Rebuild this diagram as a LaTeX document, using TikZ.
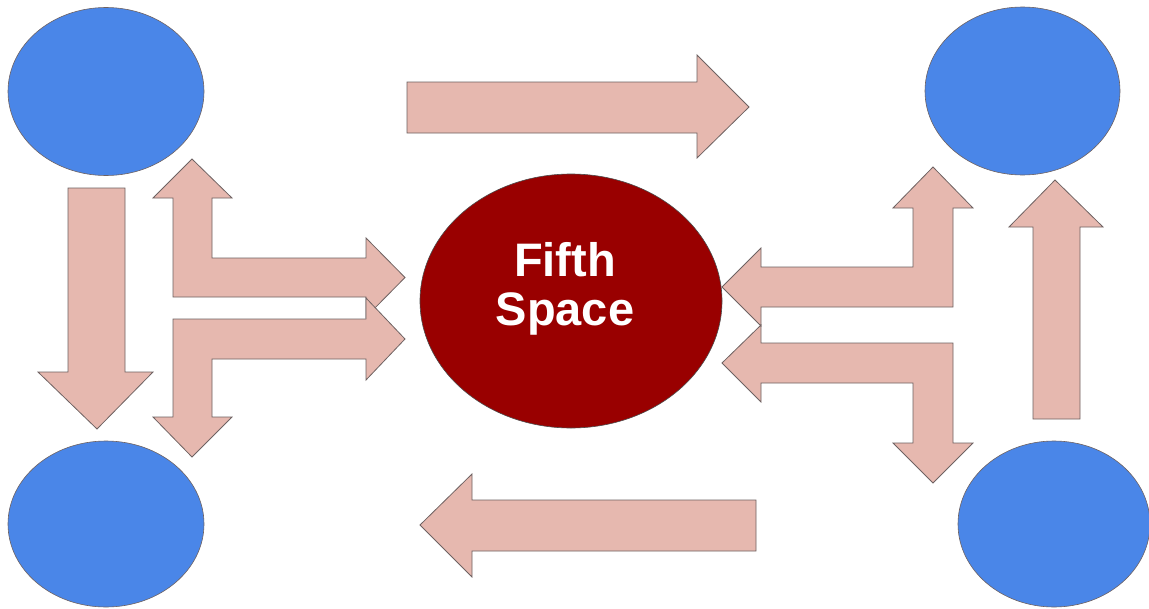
\documentclass[tikz,border=0pt]{standalone}
\usepackage{fontspec}
\setmainfont{Liberation Sans}
\usetikzlibrary{shapes.geometric}
\definecolor{blueC}{HTML}{4A86E8}
\definecolor{pinkC}{HTML}{E6B8AF}
\definecolor{redC}{HTML}{990000}
\definecolor{edgeC}{HTML}{6E6262}
\tikzset{
  bluecircle/.style={ellipse, fill=blueC, draw=edgeC, line width=0.6pt, minimum width=196pt, minimum height=168pt, inner sep=0pt},
  centercircle/.style={ellipse, fill=redC, draw=black!70, line width=0.6pt, minimum width=302pt, minimum height=254pt, inner sep=0pt},
  blockarrow/.style={fill=pinkC, draw=edgeC, line width=0.8pt, line join=miter}
}
\begin{document}
\begin{tikzpicture}[x=1pt,y=-1pt]
\useasboundingbox (0,0) rectangle (1149,608);
\fill[white] (0,0) rectangle (1149,608);

% circles
\node[bluecircle] (tl) at (106,91.5) {};
\node[bluecircle, minimum height=166pt] (bl) at (106,524) {};
\node[bluecircle, minimum width=195pt] (tr) at (1022.5,91) {};
\node[bluecircle, minimum width=192pt, minimum height=166pt] (br) at (1054,524) {};
\node[centercircle] (fifth) at (571,301) {};
\node[text=white, font=\fontsize{47}{49}\selectfont\bfseries, align=center] (label) at (565,289) {Fifth\\Space};

% top arrow (right)
\draw[blockarrow] (407,82) -- (697,82) -- (697,55) -- (749,107) -- (697,158) -- (697,133) -- (407,133) -- cycle;
% bottom arrow (left)
\draw[blockarrow] (756,500) -- (472,500) -- (472,474) -- (420,525) -- (472,577) -- (472,551) -- (756,551) -- cycle;

% left down arrow
\draw[blockarrow] (68,188) -- (125,188) -- (125,372) -- (153,372) -- (97,429) -- (38,372) -- (68,372) -- cycle;

% left upper bent arrow
\draw[blockarrow] (173,297) -- (173,198) -- (153,198) -- (192,159) -- (232,198) -- (212,198) -- (212,258) -- (366,258) -- (366,238) -- (405,277.5) -- (366,317) -- (366,297) -- cycle;
% left lower bent arrow
\draw[blockarrow] (173,319) -- (366,319) -- (366,298) -- (405,339) -- (366,380) -- (366,359) -- (212,359) -- (212,417) -- (232,417) -- (192,457) -- (153,417) -- (173,417) -- cycle;

% right upper bent arrow
\draw[blockarrow] (722,287) -- (761,248) -- (761,267) -- (913,267) -- (913,208) -- (893,208) -- (933,167) -- (973,208) -- (953,208) -- (953,307) -- (761,307) -- (761,326) -- cycle;
% right lower bent arrow
\draw[blockarrow] (722,363) -- (761,325) -- (761,343) -- (953,343) -- (953,443) -- (973,443) -- (933,483) -- (893,443) -- (913,443) -- (913,383) -- (761,383) -- (761,402) -- cycle;

% right up arrow
\draw[blockarrow] (1033,419) -- (1033,227) -- (1009,227) -- (1055,180) -- (1103,227) -- (1080,227) -- (1080,419) -- cycle;
\end{tikzpicture}
\end{document}
